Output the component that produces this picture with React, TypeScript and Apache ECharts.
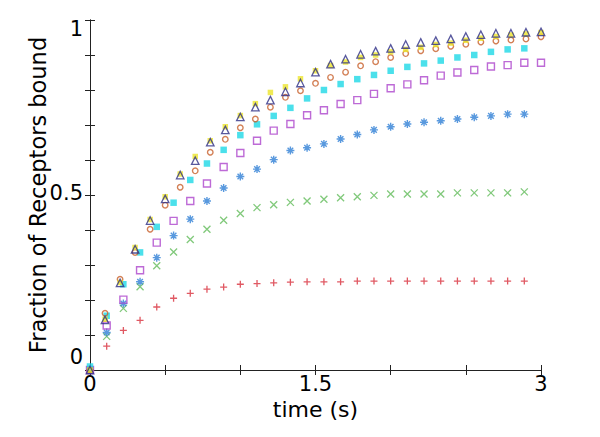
import React, { useEffect, useRef } from "react";
import * as echarts from "echarts";

// time grids (s)
const timesNinths = [0, 0.111, 0.222, 0.333, 0.444, 0.556, 0.667, 0.778, 0.889, 1.0, 1.111, 1.222, 1.333, 1.444, 1.556, 1.667, 1.778, 1.889, 2.0, 2.111, 2.222, 2.333, 2.444, 2.556, 2.667, 2.778, 2.889, 3.0];
const timesTenths = [0, 0.1, 0.2, 0.3, 0.4, 0.5, 0.6, 0.7, 0.8, 0.9, 1.0, 1.1, 1.2, 1.3, 1.4, 1.5, 1.6, 1.7, 1.8, 1.9, 2.0, 2.1, 2.2, 2.3, 2.4, 2.5, 2.6, 2.7, 2.8, 2.9, 3.0];

// fraction bound series
const redPlus = [0, 0.068, 0.113, 0.142, 0.18, 0.205, 0.219, 0.231, 0.237, 0.245, 0.247, 0.249, 0.251, 0.252, 0.252, 0.252, 0.254, 0.254, 0.254, 0.254, 0.254, 0.254, 0.254, 0.254, 0.254, 0.254, 0.254];
const greenX = [0, 0.096, 0.176, 0.238, 0.298, 0.337, 0.373, 0.402, 0.428, 0.447, 0.464, 0.472, 0.479, 0.483, 0.488, 0.492, 0.495, 0.499, 0.503, 0.503, 0.503, 0.503, 0.506, 0.506, 0.506, 0.506, 0.509];
const blueStar = [0, 0.107, 0.19, 0.252, 0.321, 0.384, 0.431, 0.483, 0.52, 0.553, 0.574, 0.601, 0.627, 0.635, 0.646, 0.66, 0.673, 0.686, 0.695, 0.703, 0.708, 0.712, 0.717, 0.722, 0.726, 0.731, 0.731];
const purpleSquare = [0, 0.127, 0.201, 0.285, 0.364, 0.426, 0.483, 0.533, 0.58, 0.62, 0.655, 0.684, 0.703, 0.728, 0.742, 0.76, 0.771, 0.789, 0.805, 0.816, 0.828, 0.841, 0.85, 0.857, 0.867, 0.871, 0.878, 0.878];
const cyanSquare = [0.01, 0.155, 0.245, 0.336, 0.409, 0.478, 0.543, 0.59, 0.629, 0.671, 0.702, 0.726, 0.749, 0.776, 0.8, 0.817, 0.831, 0.843, 0.855, 0.866, 0.876, 0.884, 0.893, 0.9, 0.909, 0.916, 0.919];
const orangeCircle = [0, 0.162, 0.259, 0.336, 0.402, 0.471, 0.522, 0.569, 0.622, 0.659, 0.692, 0.717, 0.751, 0.779, 0.798, 0.819, 0.836, 0.851, 0.869, 0.881, 0.893, 0.904, 0.912, 0.918, 0.925, 0.931, 0.937, 0.94, 0.943, 0.946, 0.952];
const yellowDot = [0, 0.145, 0.25, 0.35, 0.43, 0.495, 0.56, 0.61, 0.655, 0.695, 0.727, 0.761, 0.793, 0.809, 0.832, 0.855, 0.87, 0.88, 0.893, 0.9, 0.909, 0.916, 0.922, 0.93, 0.934, 0.942, 0.948, 0.953, 0.957, 0.96, 0.964];
const navyTriangle = [0, 0.143, 0.249, 0.345, 0.427, 0.489, 0.557, 0.598, 0.651, 0.686, 0.723, 0.751, 0.771, 0.795, 0.82, 0.851, 0.874, 0.888, 0.902, 0.911, 0.919, 0.93, 0.936, 0.941, 0.946, 0.953, 0.958, 0.962, 0.962, 0.965, 0.966];

const xLabels = [0, 1.5, 3];
const yLabels = [0, 0.5, 1];

const FONT = "DejaVu Sans";

const pair = (ts: number[], vs: number[]) => vs.map((v, i) => [ts[i], v]);
const near = (a: number, b: number) => Math.abs(a - b) < 1e-6;

export default function App() {
  const ref = useRef<HTMLDivElement>(null);
  useEffect(() => {
    if (!ref.current) return;
    const chart = echarts.init(ref.current, undefined, { renderer: "svg" });
    const axisLine = { show: true, lineStyle: { color: "#222", width: 1 } };
    const tick = { show: true, inside: true, length: 5, lineStyle: { color: "#222", width: 1 } };
    const gridBox = { left: 90, top: 20, width: 451, height: 350 };
    const stroked = (color: string, w = 1.3) => ({ color: "transparent", borderColor: color, borderWidth: w });
    const base = { type: "scatter", xAxisIndex: 0, yAxisIndex: 0, clip: false, silent: true };
    chart.setOption({
      animation: false,
      backgroundColor: "#ffffff",
      grid: gridBox,
      xAxis: [
        {
          type: "value", min: 0, max: 3, interval: 0.5, position: "bottom",
          axisLine, axisTick: tick, splitLine: { show: false },
          name: "time (s)", nameLocation: "middle", nameGap: 28, nameMoveOverlap: false,
          nameTextStyle: { fontFamily: FONT, fontSize: 22, color: "#000" },
          axisLabel: {
            margin: 3, fontFamily: FONT, fontSize: 21, color: "#000",
            showMinLabel: true, showMaxLabel: true,
            formatter: (v: number) => (xLabels.some((l) => near(l, v)) ? String(v) : ""),
          },
        },
        {
          type: "value", min: 0, max: 3, interval: 0.5, position: "top",
          axisLine, axisTick: tick, axisLabel: { show: false }, splitLine: { show: false },
        },
      ],
      yAxis: [
        {
          type: "value", min: 0, max: 1, interval: 0.1, position: "left",
          axisLine, axisTick: tick, splitLine: { show: false },
          name: "Fraction of Receptors bound", nameLocation: "middle", nameGap: 41, nameRotate: 90,
          nameMoveOverlap: false,
          nameTextStyle: { fontFamily: FONT, fontSize: 22.5, color: "#000" },
          axisLabel: {
            margin: 7, fontFamily: FONT, fontSize: 21, color: "#000",
            formatter: (v: number) => {
              if (near(v, yLabels[0])) return "{lo|0}";
              if (near(v, yLabels[1])) return "{mid|0.5}";
              if (near(v, yLabels[2])) return "{hi|1}";
              return "";
            },
            rich: {
              lo: { fontFamily: FONT, fontSize: 21, color: "#000", padding: [0, 0, 26, 0] },
              mid: { fontFamily: FONT, fontSize: 21, color: "#000", padding: [0, 0, 4, 0] },
              hi: { fontFamily: FONT, fontSize: 21, color: "#000", padding: [18, 0, 0, 0] },
            },
          },
        },
        {
          type: "value", min: 0, max: 1, interval: 0.1, position: "right",
          axisLine, axisTick: tick, axisLabel: { show: false }, splitLine: { show: false },
        },
      ],
      series: [
        { ...base, name: "red", data: pair(timesNinths, redPlus), symbol: "path://M5,0L5,10M0,5L10,5", symbolSize: 7, itemStyle: stroked("#d8303c") },
        { ...base, name: "green", data: pair(timesNinths, greenX), symbol: "path://M0,0L10,10M10,0L0,10", symbolSize: 7, itemStyle: stroked("#62bb5a") },
        { ...base, name: "blue", data: pair(timesNinths, blueStar), symbol: "path://M5,0L5,10M0,5L10,5M1.5,1.5L8.5,8.5M8.5,1.5L1.5,8.5", symbolSize: 8, itemStyle: stroked("#2f7fd6", 1.4) },
        { ...base, name: "purple", data: pair(timesNinths, purpleSquare), symbol: "rect", symbolSize: 7, itemStyle: stroked("#ad45cc", 1.4) },
        { ...base, name: "cyan", data: pair(timesNinths, cyanSquare), symbol: "rect", symbolSize: 6.5, itemStyle: { color: "#1ed8e6" } },
        { ...base, name: "orange", data: pair(timesTenths, orangeCircle), symbol: "circle", symbolSize: 5.5, itemStyle: stroked("#c8602c", 1.4) },
        { ...base, name: "yellow", data: pair(timesTenths, yellowDot), symbol: "rect", symbolSize: 5.5, itemStyle: { color: "#ece52c" } },
        { ...base, name: "navy", data: pair(timesTenths, navyTriangle), symbol: "triangle", symbolSize: 7.5, itemStyle: stroked("#2e2e86", 1.3) },
      ],
    });
    return () => chart.dispose();
  }, []);
  return (
    <div
      ref={ref}
      style={{ position: "absolute", left: 0, top: 0, width: 600, height: 437, background: "#fff" }}
    />
  );
}
